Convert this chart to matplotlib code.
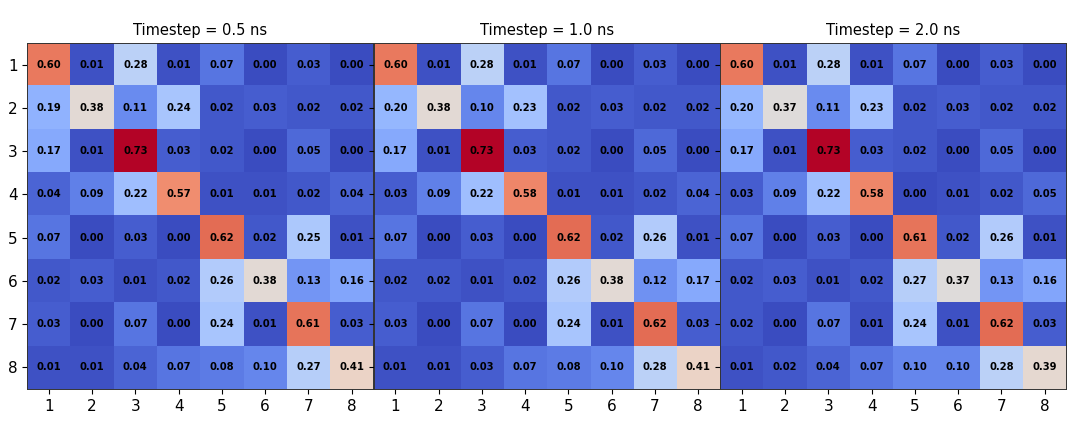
import numpy as np
import matplotlib
matplotlib.use("Agg")
import matplotlib.pyplot as plt

timesteps = ["0.5", "1.0", "2.0"]
states = [1, 2, 3, 4, 5, 6, 7, 8]

probs_05 = [
    [0.60, 0.01, 0.28, 0.01, 0.07, 0.00, 0.03, 0.00],
    [0.19, 0.38, 0.11, 0.24, 0.02, 0.03, 0.02, 0.02],
    [0.17, 0.01, 0.73, 0.03, 0.02, 0.00, 0.05, 0.00],
    [0.04, 0.09, 0.22, 0.57, 0.01, 0.01, 0.02, 0.04],
    [0.07, 0.00, 0.03, 0.00, 0.62, 0.02, 0.25, 0.01],
    [0.02, 0.03, 0.01, 0.02, 0.26, 0.38, 0.13, 0.16],
    [0.03, 0.00, 0.07, 0.00, 0.24, 0.01, 0.61, 0.03],
    [0.01, 0.01, 0.04, 0.07, 0.08, 0.10, 0.27, 0.41],
]

probs_10 = [
    [0.60, 0.01, 0.28, 0.01, 0.07, 0.00, 0.03, 0.00],
    [0.20, 0.38, 0.10, 0.23, 0.02, 0.03, 0.02, 0.02],
    [0.17, 0.01, 0.73, 0.03, 0.02, 0.00, 0.05, 0.00],
    [0.03, 0.09, 0.22, 0.58, 0.01, 0.01, 0.02, 0.04],
    [0.07, 0.00, 0.03, 0.00, 0.62, 0.02, 0.26, 0.01],
    [0.02, 0.02, 0.01, 0.02, 0.26, 0.38, 0.12, 0.17],
    [0.03, 0.00, 0.07, 0.00, 0.24, 0.01, 0.62, 0.03],
    [0.01, 0.01, 0.03, 0.07, 0.08, 0.10, 0.28, 0.41],
]

probs_20 = [
    [0.60, 0.01, 0.28, 0.01, 0.07, 0.00, 0.03, 0.00],
    [0.20, 0.37, 0.11, 0.23, 0.02, 0.03, 0.02, 0.02],
    [0.17, 0.01, 0.73, 0.03, 0.02, 0.00, 0.05, 0.00],
    [0.03, 0.09, 0.22, 0.58, 0.00, 0.01, 0.02, 0.05],
    [0.07, 0.00, 0.03, 0.00, 0.61, 0.02, 0.26, 0.01],
    [0.02, 0.03, 0.01, 0.02, 0.27, 0.37, 0.13, 0.16],
    [0.02, 0.00, 0.07, 0.01, 0.24, 0.01, 0.62, 0.03],
    [0.01, 0.02, 0.04, 0.07, 0.10, 0.10, 0.28, 0.39],
]

matrices = [np.array(probs_05), np.array(probs_10), np.array(probs_20)]
vmax = max(m.max() for m in matrices)

fig, axes = plt.subplots(1, 3, figsize=(10.8, 4.32), dpi=100, sharey=True)
plt.subplots_adjust(left=0.025, right=0.9875, bottom=0.0995, top=0.9005, wspace=0)

n = len(states)
for ax, mat, ts in zip(axes, matrices, timesteps):
    ax.imshow(mat, cmap="coolwarm", vmin=0, vmax=vmax,
              extent=(0.5, n + 0.5, n + 0.5, 0.5), aspect="equal")
    for i in range(n):
        for j in range(n):
            ax.text(states[j], states[i], f"{mat[i, j]:.2f}",
                    ha="center", va="center", fontsize=7.2, fontweight="bold")
    ax.set_xticks(states)
    ax.set_yticks(states)
    ax.tick_params(axis="both", labelsize=11)
    ax.set_title(f"Timestep = {ts} ns", fontsize=10.5)
    for sp in ax.spines.values():
        sp.set_linewidth(0.7)
        sp.set_color("#333333")

fig.savefig("out.png", dpi=100)
